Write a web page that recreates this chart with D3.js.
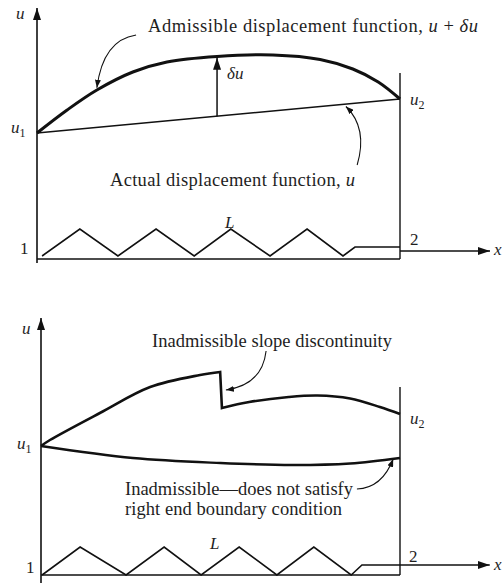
<!DOCTYPE html>
<html>
<head>
<meta charset="utf-8">
<script src="https://cdn.jsdelivr.net/npm/d3@7"></script>
<style>
  body { margin: 0; background: #fff; }
  text { font-family: "Liberation Serif", "DejaVu Serif", serif; fill: #1e1e1e; }
  .it { font-style: italic; }
</style>
</head>
<body>
<div class="canva"></div>
<script>
// ---- data (t = position along element 0..1, u = displacement units) ----
// top panel
const topU1 = 5.04, topU2 = 6.4;
const topAdmT = [0, 0.083, 0.165, 0.264, 0.358, 0.496, 0.65, 0.78, 0.87, 0.94, 1];
const topAdmU = [5.04, 5.96, 6.76, 7.48, 7.88, 8.1, 8.16, 7.98, 7.6, 7.08, 6.4];
const topDeltaT = 0.496;
const topZigT = [0.014, 0.118, 0.223, 0.328, 0.433, 0.534, 0.642, 0.744, 0.843, 0.876, 1];
const topZigU = [0.12, 1.2, 0.12, 1.2, 0.12, 1.2, 0.12, 1.2, 0.12, 0.48, 0.48];
const topRightTop = 7.44, topXAxisU = 0.32, topXAxisEnd = 1.248;

// bottom panel
const botU1 = 5.16, botU2 = 6.44;
const botSlopeAT = [0, 0.025, 0.164, 0.304, 0.443, 0.499];
const botSlopeAU = [5.16, 5.4, 6.48, 7.52, 8.0, 8.12];
const botSlopeBT = [0.504, 0.58, 0.69, 0.77, 0.861, 0.944, 1];
const botSlopeBU = [6.68, 6.92, 7.12, 7.18, 7.06, 6.72, 6.44];
const botLowT = [0, 0.256, 0.5, 0.7, 0.861, 1];
const botLowU = [5.16, 4.68, 4.48, 4.4, 4.46, 4.68];
const botZigT = [0.003, 0.109, 0.237, 0.343, 0.446, 0.552, 0.657, 0.760, 0.864, 0.894, 1];
const botZigU = [0, 1.12, 0, 1.12, 0, 1.12, 0, 1.12, 0, 0.4, 0.4];
const botRightTop = 7.52, botXAxisU = 0.4, botXAxisEnd = 1.25;

// callouts: [start, control, end] as [t, u]
const topCallA = [[0.273, 8.96], [0.182, 8.76], [0.165, 6.85]];
const topCallB = [[0.882, 3.76], [0.912, 5.24], [0.851, 6.1]];
const botCallA = [[0.627, 8.96], [0.616, 7.6], [0.515, 7.4]];
const botCallB = [[0.880, 3.44], [0.950, 3.48], [0.981, 4.64]];

const svg = d3.select(".canva").append("svg")
  .attr("width", 503)
  .attr("height", 585);

const defs = svg.append("defs");
defs.append("marker").attr("id", "bigArrow")
  .attr("viewBox", "0 0 12 8").attr("refX", 12).attr("refY", 4)
  .attr("markerWidth", 12).attr("markerHeight", 8)
  .attr("markerUnits", "userSpaceOnUse").attr("orient", "auto")
  .append("path").attr("d", "M0,0 L12,4 L0,8 Z").attr("fill", "#111");
defs.append("marker").attr("id", "smallArrow")
  .attr("viewBox", "0 0 8 6").attr("refX", 8).attr("refY", 3)
  .attr("markerWidth", 8).attr("markerHeight", 6)
  .attr("markerUnits", "userSpaceOnUse").attr("orient", "auto")
  .append("path").attr("d", "M0,0 L8,3 L0,6 Z").attr("fill", "#111");

function drawPanel(cfg) {
  const x = d3.scaleLinear().domain([0, 1]).range([cfg.x0, 400]);
  const y = d3.scaleLinear().domain([0, 10]).range([cfg.base, cfg.base - 250]);
  const g = svg.append("g");
  const line = d3.line().x(d => x(d[0])).y(d => y(d[1]));

  // left u axis
  g.append("path").attr("d", line([[0, cfg.axisLow], [0, cfg.axisTop]]))
    .attr("stroke", "#111").attr("stroke-width", 1.6).attr("marker-end", "url(#bigArrow)");
  // baseline
  g.append("path").attr("d", line([[0, 0], [1, 0]]))
    .attr("stroke", "#111").attr("stroke-width", 1.6);
  // right end line
  g.append("path").attr("d", line([[1, 0], [1, cfg.rightTop]]))
    .attr("stroke", "#111").attr("stroke-width", 1.4);
  // x axis arrow
  g.append("path").attr("d", line([[1, cfg.xAxisU], [cfg.xAxisEnd, cfg.xAxisU]]))
    .attr("stroke", "#111").attr("stroke-width", 1.4).attr("marker-end", "url(#bigArrow)");
  // zigzag element
  g.append("path").attr("d", line(d3.zip(cfg.zigT, cfg.zigU)))
    .attr("fill", "none").attr("stroke", "#111").attr("stroke-width", 1.6);

  return { x, y, g, line };
}

function callout(p, pts) {
  const a = pts.map(d => [p.x(d[0]), p.y(d[1])]);
  const path = d3.path();
  path.moveTo(a[0][0], a[0][1]);
  path.quadraticCurveTo(a[1][0], a[1][1], a[2][0], a[2][1]);
  p.g.append("path").attr("d", path.toString())
    .attr("fill", "none").attr("stroke", "#111").attr("stroke-width", 1.1)
    .attr("marker-end", "url(#smallArrow)");
}

function label(g, xp, yp, txt, italic, size) {
  return g.append("text").attr("x", xp).attr("y", yp)
    .attr("class", italic ? "it" : null)
    .style("font-size", (size || 16) + "px").text(txt);
}

function subLabel(g, xp, yp, base, sub) {
  const t = g.append("text").attr("x", xp).attr("y", yp).style("font-size", "17px");
  t.append("tspan").attr("class", "it").text(base);
  t.append("tspan").attr("dy", 4).style("font-size", "12px").text(sub);
}

// long captions, stretched to the width they take in the figure
function caption(g, xp, yp, width) {
  return g.append("text").attr("x", xp).attr("y", yp)
    .attr("textLength", width).attr("lengthAdjust", "spacing")
    .style("font-size", "18.5px");
}

// ---------------- top panel ----------------
const P1 = drawPanel({
  x0: 37, base: 259, axisLow: -0.16, axisTop: 10.04,
  rightTop: topRightTop, xAxisU: topXAxisU, xAxisEnd: topXAxisEnd,
  zigT: topZigT, zigU: topZigU
});
// actual displacement (linear)
P1.g.append("path").attr("d", P1.line([[0, topU1], [1, topU2]]))
  .attr("stroke", "#111").attr("stroke-width", 1.5);
// admissible displacement
P1.g.append("path")
  .attr("d", d3.line().x(d => P1.x(d[0])).y(d => P1.y(d[1])).curve(d3.curveCatmullRom)(d3.zip(topAdmT, topAdmU)))
  .attr("fill", "none").attr("stroke", "#111").attr("stroke-width", 3);
// delta u arrow
const lineAt = topU1 + (topU2 - topU1) * topDeltaT;
P1.g.append("path").attr("d", P1.line([[topDeltaT, lineAt], [topDeltaT, topAdmU[5] - 0.05]]))
  .attr("stroke", "#111").attr("stroke-width", 1.5).attr("marker-end", "url(#bigArrow)");
callout(P1, topCallA);
callout(P1, topCallB);

label(P1.g, 16, 19, "u", true, 17);
subLabel(P1.g, 11, 133, "u", "1");
subLabel(P1.g, 410, 105, "u", "2");
label(P1.g, 227, 79, "δu", true, 17);
label(P1.g, 20, 254, "1", false, 17);
label(P1.g, 410, 245, "2", false, 17);
label(P1.g, 225, 228, "L", true, 17);
label(P1.g, 494, 255, "x", true, 17);
const t1 = caption(P1.g, 148, 32, 330);
t1.append("tspan").text("Admissible displacement function, ");
t1.append("tspan").attr("class", "it").text("u");
t1.append("tspan").text(" + ");
t1.append("tspan").attr("class", "it").text("δu");
const t2 = caption(P1.g, 110, 186, 245);
t2.append("tspan").text("Actual displacement function, ");
t2.append("tspan").attr("class", "it").text("u");

// ---------------- bottom panel ----------------
const P2 = drawPanel({
  x0: 41, base: 575, axisLow: -0.32, axisTop: 10.28,
  rightTop: botRightTop, xAxisU: botXAxisU, xAxisEnd: botXAxisEnd,
  zigT: botZigT, zigU: botZigU
});
const curve2 = d3.line().x(d => P2.x(d[0])).y(d => P2.y(d[1])).curve(d3.curveCatmullRom);
// slope discontinuity curve: rising part, jump, then second part
const slopePts = d3.zip(botSlopeAT, botSlopeAU);
const slopePtsB = d3.zip(botSlopeBT, botSlopeBU);
P2.g.append("path")
  .attr("d", curve2(slopePts) + "L" + curve2(slopePtsB).slice(1))
  .attr("fill", "none").attr("stroke", "#111").attr("stroke-width", 2.6)
  .attr("stroke-linejoin", "miter");
// lower curve
P2.g.append("path").attr("d", curve2(d3.zip(botLowT, botLowU)))
  .attr("fill", "none").attr("stroke", "#111").attr("stroke-width", 2.4);
callout(P2, botCallA);
callout(P2, botCallB);

label(P2.g, 22, 334, "u", true, 17);
subLabel(P2.g, 17, 449, "u", "1");
subLabel(P2.g, 410, 424, "u", "2");
label(P2.g, 26, 573, "1", false, 17);
label(P2.g, 409, 562, "2", false, 17);
label(P2.g, 210, 549, "L", true, 17);
label(P2.g, 494, 570, "x", true, 17);
caption(P2.g, 152, 347, 240).text("Inadmissible slope discontinuity");
caption(P2.g, 125, 495, 228).text("Inadmissible—does not satisfy");
caption(P2.g, 125, 515, 217).text("right end boundary condition");
</script>
</body>
</html>
